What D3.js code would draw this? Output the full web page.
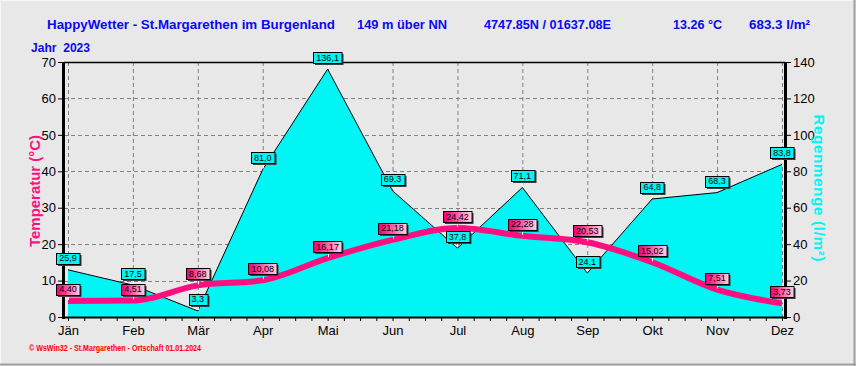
<!DOCTYPE html>
<html><head><meta charset="utf-8">
<script src="https://cdn.jsdelivr.net/npm/d3@7"></script>
<style>body{margin:0;background:#e8e8e8;} svg{display:block;font-family:Arial,"Liberation Sans",sans-serif;}</style>
</head><body>
<svg id="c" width="856" height="366"></svg>
<script>
const months = ["Jän","Feb","Mär","Apr","Mai","Jun","Jul","Aug","Sep","Okt","Nov","Dez"];
const rain = [25.9,17.5,3.3,81.0,136.1,69.3,37.8,71.1,24.1,64.8,68.3,83.8];
const temp = [4.40,4.51,8.68,10.08,16.17,21.18,24.42,22.28,20.53,15.02,7.51,3.73];
const tempTicks = [0,10,20,30,40,50,60,70];
const rainTicks = [0,20,40,60,80,100,120,140];
const titleParts = [
  {t:"HappyWetter - St.Margarethen im Burgenland", x:47, w:288},
  {t:"149 m über NN", x:357, w:90},
  {t:"4747.85N / 01637.08E", x:484, w:127},
  {t:"13.26 °C", x:673, w:49},
  {t:"683.3 l/m²", x:749, w:61}
];

const svg = d3.select("#c");
const L = 64, R = 785, T = 62, B = 317;
const CYAN = "#00f5f5", MAG = "#ff0f80", BLUE = "#0a0af0";

// background + frame
svg.append("rect").attr("width",856).attr("height",366).attr("fill","#e8e8e8");
svg.append("line").attr("x1",0).attr("x2",856).attr("y1",0.5).attr("y2",0.5).attr("stroke","#f6f6f6");
svg.append("line").attr("x1",0.5).attr("x2",0.5).attr("y1",0).attr("y2",366).attr("stroke","#f6f6f6");
svg.append("line").attr("x1",0).attr("x2",856).attr("y1",364.5).attr("y2",364.5).attr("stroke","#a0a0a0").attr("stroke-width",2);
svg.append("line").attr("x1",854.5).attr("x2",854.5).attr("y1",0).attr("y2",366).attr("stroke","#a0a0a0").attr("stroke-width",2);

const x = d3.scalePoint().domain(months).range([68,782]);
const xi = d3.scaleLinear().domain([0,11]).range([68,782]);
const yT = d3.scaleLinear().domain([0,70]).range([B,T]);
const yR = d3.scaleLinear().domain([0,140]).range([B,T]);

// grid
const grid = svg.append("g").attr("stroke","#808080").attr("stroke-dasharray","4,3").attr("stroke-width",1);
tempTicks.filter(d=>d>0&&d<70).forEach(d=>{
  grid.append("line").attr("x1",L).attr("x2",R).attr("y1",Math.round(yT(d))+0.5).attr("y2",Math.round(yT(d))+0.5);
});
months.forEach(m=>{
  grid.append("line").attr("x1",x(m)+0.5).attr("x2",x(m)+0.5).attr("y1",T).attr("y2",B);
});

// rain area
const idx = d3.range(12);
svg.append("path").datum(idx)
  .attr("d", d3.area().x(i=>xi(i)).y0(B).y1(i=>yR(rain[i])))
  .attr("fill",CYAN);
svg.append("path").datum(idx)
  .attr("d", d3.line().x(i=>xi(i)).y(i=>yR(rain[i])))
  .attr("fill","none").attr("stroke","#000").attr("stroke-width",1);

// temperature line
svg.append("path").datum(idx)
  .attr("d", d3.line().x(i=>xi(i)).y(i=>yT(temp[i])).curve(d3.curveMonotoneX))
  .attr("fill","none").attr("stroke",MAG).attr("stroke-width",6);

// top border
svg.append("line").attr("x1",L).attr("x2",R).attr("y1",T+0.5).attr("y2",T+0.5).attr("stroke","#000").attr("stroke-width",1.5);

// axes
const gl = svg.append("g").attr("transform",`translate(${L-1},0)`)
  .call(d3.axisLeft(yT).tickValues(tempTicks).tickSize(5).tickSizeOuter(0).tickPadding(2));
const gr = svg.append("g").attr("transform",`translate(${R+1},0)`)
  .call(d3.axisRight(yR).tickValues(rainTicks).tickSize(5).tickSizeOuter(0).tickPadding(2));
const minor = d3.range(0,11.01,0.25);
const gb = svg.append("g").attr("transform",`translate(0,${B})`)
  .call(d3.axisBottom(xi).tickValues(minor).tickSize(4).tickSizeOuter(0).tickFormat(""));
const gbl = svg.append("g").attr("transform",`translate(0,${B})`)
  .call(d3.axisBottom(x).tickSize(0).tickPadding(9));
[gl,gr,gb,gbl].forEach(g=>{
  g.selectAll("text").attr("font-size",13).attr("fill","#000").attr("font-family","Arial");
  g.selectAll(".tick line").attr("stroke","#000");
  g.select(".domain").remove();
});
gbl.selectAll("text").attr("dy","0.71em");
svg.append("line").attr("x1",L).attr("x2",R).attr("y1",B+0.5).attr("y2",B+0.5).attr("stroke","#000").attr("stroke-width",2);
svg.append("line").attr("x1",L-0.5).attr("x2",L-0.5).attr("y1",T).attr("y2",B+2).attr("stroke","#000").attr("stroke-width",3);
svg.append("line").attr("x1",R+0.5).attr("x2",R+0.5).attr("y1",T).attr("y2",B+2).attr("stroke","#000").attr("stroke-width",3);

// defs
const defs = svg.append("defs");
const gd = defs.append("linearGradient").attr("id","tg").attr("x1","0").attr("x2","1").attr("y1","0").attr("y2","0");
gd.append("stop").attr("offset","0").attr("stop-color","#ee0070");
gd.append("stop").attr("offset","0.35").attr("stop-color","#ff3d96");
gd.append("stop").attr("offset","1").attr("stop-color","#ffd6ea");

function label(px, py, txt, fill){
  const g = svg.append("g");
  g.append("line").attr("x1",Math.round(px)+0.5).attr("x2",Math.round(px)+0.5).attr("y1",py-5).attr("y2",py-1)
    .attr("stroke","#fff").attr("stroke-width",1);
  const t = g.append("text").attr("x",px).attr("y",py-8.5).attr("text-anchor","middle")
    .attr("font-size",9).attr("font-family","Arial").attr("fill","#000").text(txt);
  const w = t.node().getComputedTextLength() + 6;
  const bx = Math.round(px - w/2)+0.5, by = Math.round(py - 17)+0.5;
  g.insert("rect","text").attr("x",bx+1.5).attr("y",by+1.5).attr("width",w).attr("height",11).attr("fill","#404040");
  g.insert("rect","text").attr("x",bx).attr("y",by).attr("width",w).attr("height",11)
    .attr("fill",fill).attr("stroke","#000").attr("stroke-width",1);
}
const fr = d3.format(".1f"), ft = d3.format(".2f");
idx.forEach(i=>label(xi(i), yR(rain[i]), fr(rain[i]).replace(".",","), CYAN));
idx.forEach(i=>label(xi(i), yT(temp[i]), ft(temp[i]).replace(".",","), "url(#tg)"));

// titles
titleParts.forEach(p=>{
  svg.append("text").attr("x",p.x).attr("y",29).attr("font-size",13.5).attr("font-weight","bold")
    .attr("fill",BLUE).attr("textLength",p.w).attr("lengthAdjust","spacingAndGlyphs").text(p.t);
});
svg.append("text").attr("x",31).attr("y",52).attr("font-size",13).attr("font-weight","bold")
  .attr("fill",BLUE).attr("textLength",59).attr("lengthAdjust","spacingAndGlyphs").attr("xml:space","preserve").text("Jahr  2023");

svg.append("text").attr("transform","translate(40,191) rotate(-90)").attr("text-anchor","middle")
  .attr("font-size",15).attr("font-weight","bold").attr("fill",MAG)
  .attr("textLength",112).attr("lengthAdjust","spacing").text("Temperatur  (°C)");
svg.append("text").attr("transform","translate(814,188) rotate(90)").attr("text-anchor","middle")
  .attr("font-size",15).attr("font-weight","bold").attr("fill",CYAN)
  .attr("textLength",147).attr("lengthAdjust","spacing").text("Regenmenge  (l/m²)");

svg.append("text").attr("x",29).attr("y",351).attr("font-size",8.5).attr("font-weight","bold").attr("fill","#ff0000")
  .attr("textLength",172).attr("lengthAdjust","spacingAndGlyphs").text("© WsWin32 - St.Margarethen - Ortschaft  01.01.2024");
</script>
</body></html>
